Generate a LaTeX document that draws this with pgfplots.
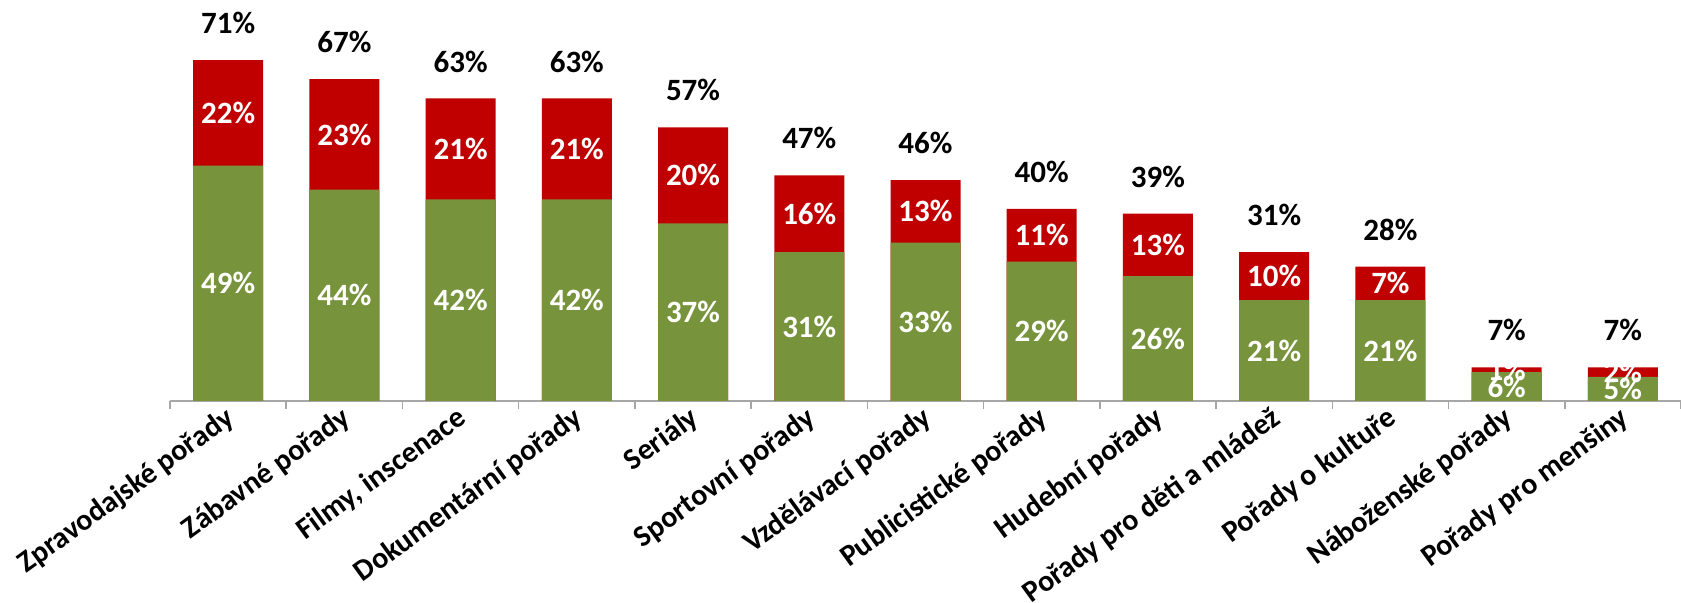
\documentclass[border=0pt]{standalone}
\usepackage{pgfplots}
\pgfplotsset{compat=1.18}
\usepackage{pgfplotstable}
\usepackage{fontspec}
\setmainfont{Carlito}
\definecolor{barGreen}{RGB}{119,147,60}
\definecolor{barRed}{RGB}{192,0,0}
\definecolor{axisGray}{RGB}{166,166,166}
\pgfplotstableread{
x green red total
0 49 22 71
1 44 23 67
2 42 21 63
3 42 21 63
4 37 20 57
5 31 16 47
6 33 13 46
7 29 11 40
8 26 13 39
9 21 10 31
10 21 7 28
11 6 1 7
12 5 2 7
}\data
\begin{document}
\begin{tikzpicture}
\useasboundingbox (-85pt,-101pt) rectangle (755.5pt,200.5pt);
\begin{axis}[
  at={(0pt,0pt)}, anchor=south west,
  scale only axis,
  width=755.5pt, height=200.5pt,
  xmin=-0.5, xmax=12.5, ymin=0, ymax=83.5,
  clip=false,
  axis x line*=bottom, axis y line=none,
  x axis line style={axisGray, line width=0.8pt},
  xtick={0,...,12},
  major tick length=0pt,
  minor xtick={-0.5,0.5,...,12.5},
  minor tick length=4pt,
  tick align=outside,
  minor x tick style={axisGray, line width=0.8pt},
  ytick=\empty,
  xticklabels={Zpravodajské pořady, Zábavné pořady, {Filmy, inscenace}, Dokumentární pořady, Seriály, Sportovní pořady, Vzdělávací pořady, Publicistické pořady, Hudební pořady, Pořady pro děti a mládež, Pořady o kultuře, Náboženské pořady, Pořady pro menšiny},
  xticklabel style={rotate=36, anchor=north east, font=\bfseries\fontsize{15}{18}\selectfont, inner sep=0pt, yshift=0pt, xshift=-3pt},
  /pgf/number format/assume math mode=true,
]
\addplot[ybar, bar width=35pt, bar shift=0pt, fill=barRed, draw=none] table[x=x, y=total]{\data};
\addplot[ybar, bar width=35pt, bar shift=0pt, fill=barGreen, draw=none] table[x=x, y=green]{\data};
\addplot[draw=none, mark=none, point meta=explicit,
  nodes near coords={\pgfmathprintnumber{\pgfplotspointmeta}\%},
  nodes near coords align=center,
  every node near coord/.append style={font=\bfseries\fontsize{15.5}{18}\selectfont, text=white}]
  table[x=x, y expr=\thisrow{green}/2, meta=green]{\data};
\addplot[draw=none, mark=none, point meta=explicit,
  nodes near coords={\pgfmathprintnumber{\pgfplotspointmeta}\%},
  nodes near coords align=center,
  every node near coord/.append style={font=\bfseries\fontsize{15.5}{18}\selectfont, text=white}]
  table[x=x, y expr=\thisrow{green}+\thisrow{red}/2, meta=red]{\data};
\addplot[draw=none, mark=none, point meta=explicit,
  nodes near coords={\pgfmathprintnumber{\pgfplotspointmeta}\%},
  nodes near coords align=center,
  every node near coord/.append style={font=\bfseries\fontsize{15.5}{18}\selectfont, text=black}]
  table[x=x, y expr=\thisrow{total}+7.7, meta=total]{\data};
\end{axis}
\end{tikzpicture}
\end{document}
